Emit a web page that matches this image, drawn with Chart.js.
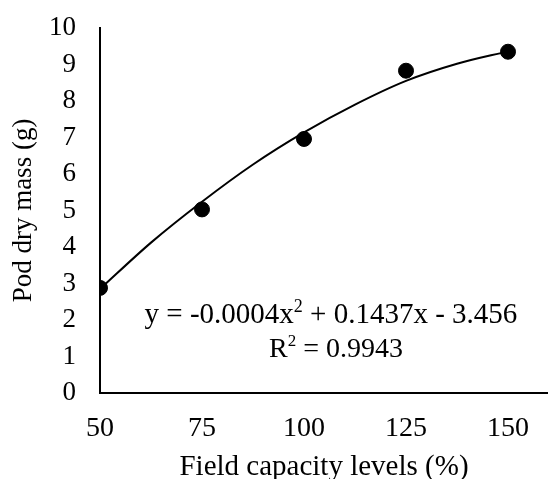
<!DOCTYPE html>
<html>
<head>
<meta charset="utf-8">
<script src="https://cdn.jsdelivr.net/npm/chart.js@4/dist/chart.umd.min.js"></script>
<style>
  html, body { margin: 0; padding: 0; background: #fff; overflow: hidden; }
  canvas { display: block; }
</style>
</head>
<body>
<canvas id="chart" width="548" height="479"></canvas>
<script>
// observed values
const fieldCapacity = [50, 75, 100, 125, 150];
const podDryMass = [2.88, 5.03, 6.96, 8.83, 9.35];

// polynomial trendline
const trendX = [50, 62.5, 75, 87.5, 100, 112.5, 125, 137.5, 150];
const trendY = [2.85, 4.12, 5.24, 6.26, 7.14, 7.9, 8.55, 9.02, 9.36];

const xTicks = [50, 75, 100, 125, 150];
const yTicks = [0, 1, 2, 3, 4, 5, 6, 7, 8, 9, 10];

// text runs, [text, superscript?]
const equationRuns = [['y = -0.0004x', false], ['2', true], [' + 0.1437x - 3.456', false]];
const r2Runs = [['R', false], ['2', true], [' = 0.9943', false]];

const serif = '"Liberation Serif", "Times New Roman", serif';

function drawRuns(ctx, runs, cx, cy, size) {
    const small = Math.round(size * 0.62);
    const fontFor = (sup) => (sup ? small : size) + 'px ' + serif;
    let total = 0;
    runs.forEach(([t, sup]) => {
        ctx.font = fontFor(sup);
        total += ctx.measureText(t).width;
    });
    let x = cx - total / 2;
    runs.forEach(([t, sup]) => {
        ctx.font = fontFor(sup);
        ctx.fillText(t, x, sup ? cy - size * 0.28 : cy);
        x += ctx.measureText(t).width;
    });
}

const equationLabel = {
    id: 'equationLabel',
    afterDatasetsDraw(chart) {
        const { ctx, scales } = chart;
        const cx = scales.x.getPixelForValue(106.6);
        ctx.save();
        ctx.fillStyle = '#000';
        ctx.textAlign = 'left';
        ctx.textBaseline = 'middle';
        drawRuns(ctx, equationRuns, cx, scales.y.getPixelForValue(2.12), 29);
        drawRuns(ctx, r2Runs, cx + 5, scales.y.getPixelForValue(1.2), 28);
        ctx.restore();
    },
};

new Chart(document.getElementById('chart'), {
    type: 'scatter',
    data: {
        datasets: [
            {
                label: 'Pod dry mass',
                data: fieldCapacity.map((x, i) => ({ x, y: podDryMass[i] })),
                pointRadius: 7.5,
                pointHoverRadius: 7.5,
                backgroundColor: '#000',
                borderColor: '#000',
                order: 1,
            },
            {
                label: 'Poly. trend',
                type: 'line',
                data: trendX.map((x, i) => ({ x, y: trendY[i] })),
                borderColor: '#000',
                borderWidth: 2,
                pointRadius: 0,
                cubicInterpolationMode: 'monotone',
                fill: false,
                order: 2,
            },
        ],
    },
    options: {
        responsive: false,
        animation: false,
        layout: { autoPadding: false, padding: { top: 28, right: 0, left: 0, bottom: 0 } },
        plugins: {
            legend: { display: false },
            tooltip: { enabled: false },
        },
        scales: {
            x: {
                type: 'linear',
                min: 50,
                max: 159.8,
                afterBuildTicks: (scale) => {
                    scale.ticks = xTicks.map((value) => ({ value }));
                },
                afterFit: (scale) => {
                    scale.height = 86;
                    scale.paddingLeft = 0;
                    scale.paddingRight = 0;
                },
                grid: { display: false, drawTicks: false },
                border: { display: true, color: '#000', width: 2 },
                ticks: {
                    color: '#000',
                    padding: 19,
                    maxRotation: 0,
                    font: { family: serif, size: 28 },
                },
                title: {
                    display: true,
                    text: 'Field capacity levels (%)',
                    color: '#000',
                    font: { family: serif, size: 29, lineHeight: 1 },
                    padding: { top: 0, bottom: -3 },
                },
            },
            y: {
                min: 0,
                max: 10,
                afterBuildTicks: (scale) => {
                    scale.ticks = yTicks.map((value) => ({ value }));
                },
                afterFit: (scale) => {
                    scale.width = 100;
                    scale.paddingTop = 0;
                    scale.paddingBottom = 0;
                },
                grid: { display: false, drawTicks: false },
                border: { display: true, color: '#000', width: 2 },
                ticks: {
                    color: '#000',
                    padding: 24,
                    font: { family: serif, size: 27 },
                },
                title: {
                    display: true,
                    text: 'Pod dry mass (g)',
                    color: '#000',
                    font: { family: serif, size: 27, lineHeight: 1 },
                    padding: { top: 10, bottom: 0 },
                },
            },
        },
    },
    plugins: [equationLabel],
});
</script>
</body>
</html>
